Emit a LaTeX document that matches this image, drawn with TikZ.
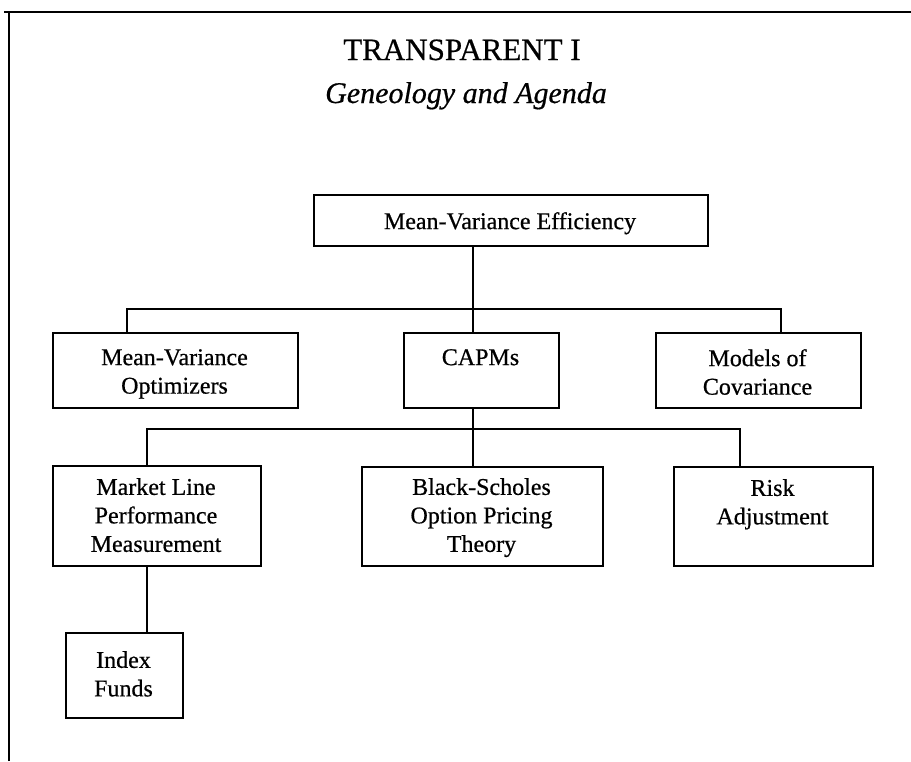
\documentclass[tikz,border=0pt]{standalone}
\usepackage{fontspec}
\setmainfont{Liberation Serif}[FakeBold=0.6]
\begin{document}
\begin{tikzpicture}[x=1pt,y=-1pt,
  box/.style={draw, line width=1.8pt, inner sep=0pt, anchor=north west},
  lbl/.style={inner sep=0pt, align=center, anchor=north,
              font=\fontsize{24}{28.5}\selectfont},
  wire/.style={line width=1.6pt}]
\useasboundingbox (0,0) rectangle (911,761);

% page frame: left edge and heavy top rule
\coordinate (fb) at (9,761);
\coordinate (fc) at (9,12);
\coordinate (fr) at (911,12);
\draw[line width=1.8pt] (fb) -- (fc);
\draw[line width=2.8pt] (4,12) -- (fr);

% headings
\node[anchor=base, inner sep=0pt, font=\fontsize{31}{31}\selectfont]
  (title) at (462,60) {TRANSPARENT I};
\node[anchor=base, inner sep=0pt, font=\fontsize{30}{30}\selectfont\itshape]
  (subtitle) at (466,103) {Geneology and Agenda};

% root
\node[box, minimum width=394pt, minimum height=51pt] (mve) at (313,194) {};
\node[lbl] (mveT) at (510,212) {Mean-Variance Efficiency};

% second level
\node[box, minimum width=245pt, minimum height=75pt] (mvo) at (52,332) {};
\node[lbl] (mvoT) at (174.5,349) {Mean-Variance\\Optimizers};
\node[box, minimum width=155pt, minimum height=75pt] (capm) at (403,332) {};
\node[lbl] (capmT) at (480.5,349) {CAPMs};
\node[box, minimum width=205pt, minimum height=75pt] (cov) at (655,332) {};
\node[lbl] (covT) at (757.5,349) {Models of\\Covariance};

% third level
\node[box, minimum width=208pt, minimum height=100pt] (sml) at (52,465) {};
\node[lbl] (smlT) at (156,478) {Market Line\\Performance\\Measurement};
\node[box, minimum width=241pt, minimum height=99pt] (bs) at (361,466) {};
\node[lbl] (bsT) at (481.5,478) {Black-Scholes\\Option Pricing\\Theory};
\node[box, minimum width=199pt, minimum height=99pt] (risk) at (673,466) {};
\node[lbl] (riskT) at (772.5,479) {Risk\\Adjustment};

% fourth level
\node[box, minimum width=117pt, minimum height=85pt] (idx) at (65,632) {};
\node[lbl] (idxT) at (123.5,651) {Index\\Funds};

% connector bars
\coordinate (b1) at (473,309);
\coordinate (b1l) at (127,309);
\coordinate (b1r) at (781,309);
\coordinate (b2) at (473,429);
\coordinate (b2l) at (147,429);
\coordinate (b2r) at (740,429);

\draw[wire] (mve.south -| b1) -- (capm.north -| b1);
\draw[wire] (mvo.north -| b1l) -- (b1l) -- (b1r) -- (cov.north -| b1r);
\draw[wire] (capm.south -| b2) -- (bs.north -| b2);
\draw[wire] (sml.north -| b2l) -- (b2l) -- (b2r) -- (risk.north -| b2r);
\draw[wire] (sml.south -| b2l) -- (idx.north -| b2l);
\end{tikzpicture}
\end{document}
